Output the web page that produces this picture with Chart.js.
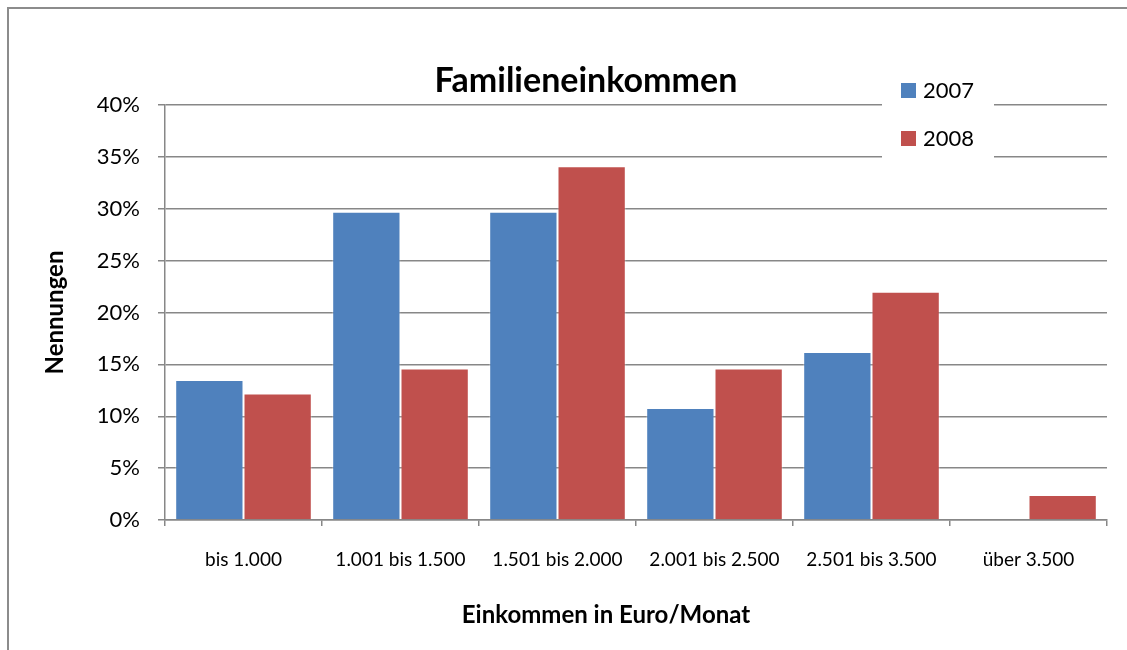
<!DOCTYPE html>
<html>
<head>
<meta charset="utf-8">
<script src="https://cdn.jsdelivr.net/npm/chart.js@4.4.0/dist/chart.umd.min.js"></script>
<style>
    body { margin: 0; background: #fff; overflow: hidden; }
    #wrap { position: relative; width: 1127px; height: 650px; }
    #frame { position: absolute; left: 7px; top: 7px; width: 1200px; height: 700px;
             border-left: 2px solid #8c8c8c; border-top: 2px solid #8c8c8c; }
    canvas { position: absolute; left: 0; top: 0; }
</style>
</head>
<body>
<div id="wrap">
    <div id="frame"></div>
    <canvas id="myChart" width="1127" height="650"></canvas>
</div>
<script>
var categories = ['bis 1.000', '1.001 bis 1.500', '1.501 bis 2.000', '2.001 bis 2.500', '2.501 bis 3.500', 'über 3.500'];
var values2007 = [13.5, 29.7, 29.7, 10.8, 16.2, 0];
var values2008 = [12.2, 14.6, 34.1, 14.6, 22.0, 2.4];
var seriesNames = ['2007', '2008'];
var seriesColors = ['#4F81BD', '#C0504D'];

var chartTitle = 'Familieneinkommen';
var xTitle = 'Einkommen in Euro/Monat';
var yTitle = 'Nennungen';

var fontFamily = 'Lato, "Open Sans", sans-serif';
var gridColor = '#878787';

// title, x axis title and the legend box sitting inside the plot
var overlayPlugin = {
    id: 'overlay',
    afterDraw: function (chart) {
        var ctx = chart.ctx;
        ctx.save();
        ctx.fillStyle = '#000';
        ctx.textAlign = 'center';
        ctx.textBaseline = 'alphabetic';
        ctx.font = 'bold 34px ' + fontFamily;
        ctx.fillText(chartTitle, 586, 92);
        ctx.font = 'bold 24px ' + fontFamily;
        ctx.fillText(xTitle, 606, 623);

        // legend
        ctx.fillStyle = '#fff';
        ctx.fillRect(882, 66, 112, 100);
        ctx.textAlign = 'left';
        ctx.font = '22px ' + fontFamily;
        chart.data.datasets.forEach(function (ds, i) {
            var y = 83 + i * 48;
            ctx.fillStyle = ds.backgroundColor;
            ctx.fillRect(901, y, 15, 15);
            ctx.fillStyle = '#000';
            ctx.fillText(ds.label, 923, y + 15);
        });
        ctx.restore();
    }
};

var ctx = document.getElementById('myChart').getContext('2d');

var chart = new Chart(ctx, {
    type: 'bar',
    data: {
        labels: categories,
        datasets: [{
            label: seriesNames[0],
            data: values2007,
            backgroundColor: seriesColors[0],
            borderColor: 'rgba(255,255,255,0.35)',
            borderWidth: 1,
            categoryPercentage: 0.87,
            barPercentage: 1
        }, {
            label: seriesNames[1],
            data: values2008,
            backgroundColor: seriesColors[1],
            borderColor: 'rgba(255,255,255,0.35)',
            borderWidth: 1,
            categoryPercentage: 0.87,
            barPercentage: 1
        }]
    },
    options: {
        responsive: false,
        animation: false,
        layout: { padding: { top: 105, right: 20, left: 0, bottom: 0 } },
        plugins: {
            legend: { display: false },
            tooltip: { enabled: false }
        },
        scales: {
            x: {
                grid: { offset: true, drawOnChartArea: false, drawTicks: true, tickLength: 6, color: gridColor, lineWidth: 1.5 },
                border: { color: gridColor, width: 1.5 },
                ticks: { font: { family: fontFamily, size: 19 }, color: '#000', padding: 22, maxRotation: 0, autoSkip: false },
                afterFit: function (scale) { scale.height = 130; }
            },
            y: {
                min: 0,
                max: 40,
                grid: { color: gridColor, lineWidth: 1.5, tickLength: 7 },
                border: { color: gridColor, width: 1.5 },
                ticks: {
                    stepSize: 5,
                    font: { family: fontFamily, size: 22 },
                    color: '#000',
                    padding: 18,
                    callback: function (value) { return value + '%'; }
                },
                title: {
                    display: true,
                    text: yTitle,
                    color: '#000',
                    font: { family: fontFamily, size: 24, weight: 'bold' },
                    padding: { top: 41, bottom: 0 }
                },
                afterFit: function (scale) { scale.width = 165; }
            }
        }
    },
    plugins: [overlayPlugin]
});
</script>
</body>
</html>
